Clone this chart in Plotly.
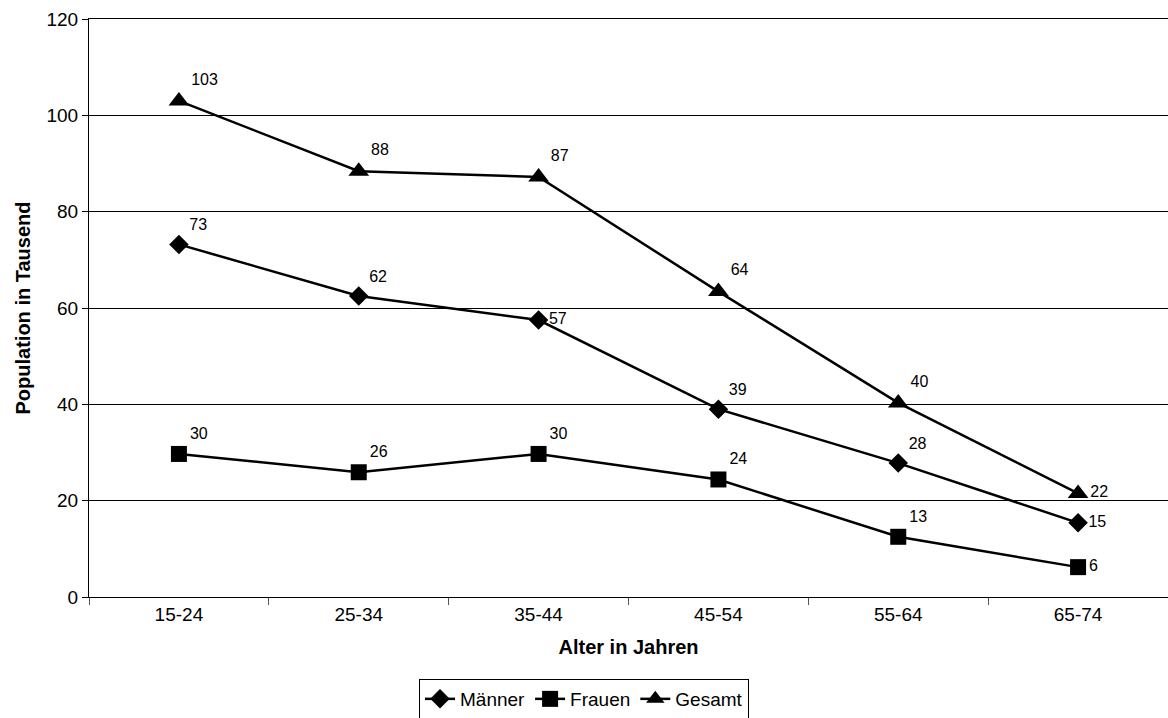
import plotly.graph_objects as go

categories = ["15-24", "25-34", "35-44", "45-54", "55-64", "65-74"]
maenner = [73.2, 62.5, 57.5, 39.0, 27.8, 15.4]
frauen = [29.7, 25.9, 29.7, 24.4, 12.5, 6.2]
gesamt = [103.0, 88.4, 87.2, 63.4, 40.3, 21.5]
maenner_labels = ["73", "62", "57", "39", "28", "15"]
frauen_labels = ["30", "26", "30", "24", "13", "6"]
gesamt_labels = ["103", "88", "87", "64", "40", "22"]

pos_m = ["top right", "top right", "middle right", "top right", "top right", "middle right"]
pos_f = ["top right", "top right", "top right", "top right", "top right", "middle right"]
pos_g = ["top right", "top right", "top right", "top right", "top right", "middle right"]

FONT = "Liberation Sans, Arial, sans-serif"

fig = go.Figure()

def add(name, y, labels, pos, symbol, size):
    fig.add_trace(go.Scatter(
        x=categories, y=y, name=name, mode="lines+markers+text",
        text=labels, textposition=pos,
        textfont=dict(family=FONT, size=16, color="black"),
        line=dict(color="black", width=2.5),
        marker=dict(symbol=symbol, size=size, color="black"),
        cliponaxis=False,
    ))

add("Männer", maenner, maenner_labels, pos_m, "diamond", 15)
add("Frauen", frauen, frauen_labels, pos_f, "square", 16)
add("Gesamt", gesamt, gesamt_labels, pos_g, "triangle-up", 18)

fig.update_layout(
    width=1168, height=718,
    margin=dict(l=89, r=0, t=19, b=121),
    paper_bgcolor="white", plot_bgcolor="white",
    font=dict(family=FONT, size=19, color="black"),
    showlegend=True,
    legend=dict(
        orientation="h", xref="container", yref="container",
        x=0.5, xanchor="center", y=1 - 679 / 718, yanchor="top",
        bordercolor="black", borderwidth=1, bgcolor="white",
        font=dict(family=FONT, size=19, color="black"),
        itemsizing="trace", tracegroupgap=0, itemwidth=30,
    ),
)
fig.update_xaxes(
    type="category", range=[-0.5, 5.5],
    showline=True, linecolor="black", linewidth=1, mirror=True,
    ticks="outside", tickson="boundaries", ticklen=7, tickcolor="#555",
    showgrid=False,
    title=dict(text="<b>Alter in Jahren</b>", font=dict(family=FONT, size=20), standoff=16),
    tickfont=dict(family=FONT, size=19),
)
fig.update_yaxes(
    range=[0, 120], dtick=20, tick0=0,
    showline=True, linecolor="black", linewidth=1,
    ticks="outside", ticklen=6, tickcolor="black",
    showgrid=True, gridcolor="black", gridwidth=1,
    zeroline=False,
    title=dict(text="<b>Population in Tausend</b>", font=dict(family=FONT, size=20), standoff=10),
    tickfont=dict(family=FONT, size=19),
)

fig.write_html("out.html")
